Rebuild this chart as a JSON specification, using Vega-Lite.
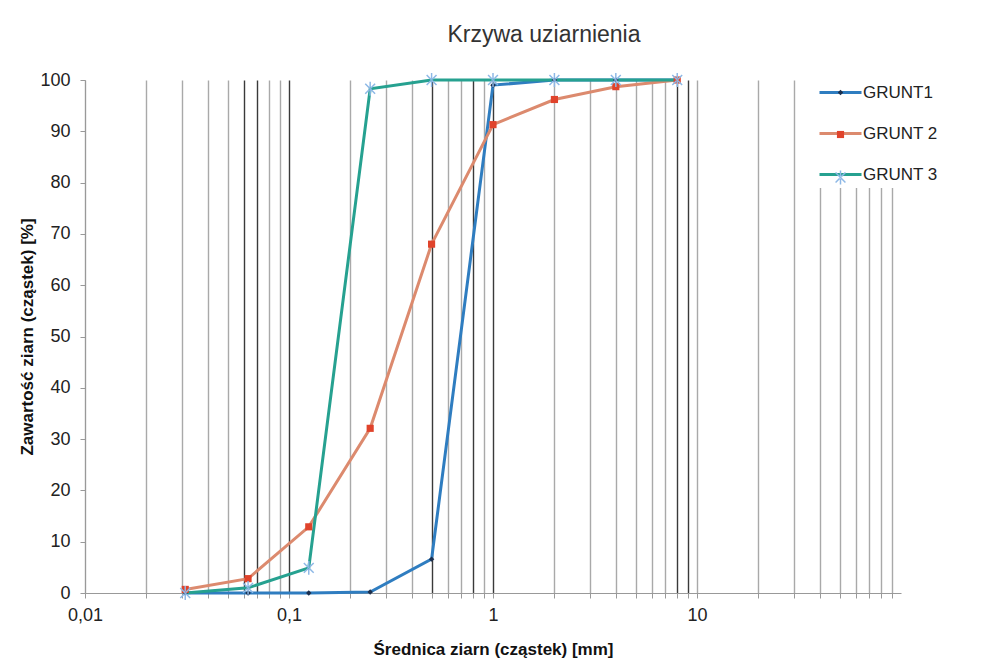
{
  "$schema": "https://vega.github.io/schema/vega-lite/v6.json",
  "width": 816,
  "height": 513,
  "autosize": {"type": "none"},
  "padding": {"left": 85, "top": 80, "right": 81, "bottom": 76},
  "background": "white",
  "title": {"text": "Krzywa uziarnienia", "font": "Liberation Sans", "fontSize": 23, "fontWeight": "normal", "color": "#333333", "anchor": "middle", "dx": 51, "offset": 18},
  "config": {"view": {"stroke": null}, "font": "Liberation Sans"},
  "data": {"values": [
    {"s": "GRUNT1", "d": 0.031, "p": 0},
    {"s": "GRUNT1", "d": 0.063, "p": 0},
    {"s": "GRUNT1", "d": 0.125, "p": 0},
    {"s": "GRUNT1", "d": 0.25, "p": 0.2},
    {"s": "GRUNT1", "d": 0.5, "p": 6.6},
    {"s": "GRUNT1", "d": 1, "p": 99},
    {"s": "GRUNT1", "d": 2, "p": 100},
    {"s": "GRUNT1", "d": 4, "p": 100},
    {"s": "GRUNT1", "d": 8, "p": 100},
    {"s": "GRUNT 2", "d": 0.031, "p": 0.7},
    {"s": "GRUNT 2", "d": 0.063, "p": 2.8},
    {"s": "GRUNT 2", "d": 0.125, "p": 12.9},
    {"s": "GRUNT 2", "d": 0.25, "p": 32.1},
    {"s": "GRUNT 2", "d": 0.5, "p": 68},
    {"s": "GRUNT 2", "d": 1, "p": 91.3},
    {"s": "GRUNT 2", "d": 2, "p": 96.2},
    {"s": "GRUNT 2", "d": 4, "p": 98.7},
    {"s": "GRUNT 2", "d": 8, "p": 100},
    {"s": "GRUNT 3", "d": 0.031, "p": 0},
    {"s": "GRUNT 3", "d": 0.063, "p": 1.0},
    {"s": "GRUNT 3", "d": 0.125, "p": 4.9},
    {"s": "GRUNT 3", "d": 0.25, "p": 98.3},
    {"s": "GRUNT 3", "d": 0.5, "p": 100},
    {"s": "GRUNT 3", "d": 1, "p": 100},
    {"s": "GRUNT 3", "d": 2, "p": 100},
    {"s": "GRUNT 3", "d": 4, "p": 100},
    {"s": "GRUNT 3", "d": 8, "p": 100}
  ]},
  "encoding": {
    "x": {
      "field": "d", "type": "quantitative",
      "scale": {"type": "log", "domain": [0.01, 100], "nice": false},
      "axis": {
        "title": "Średnica ziarn (cząstek) [mm]",
        "values": [0.01, 0.02, 0.03, 0.04, 0.05, 0.06, 0.07, 0.08, 0.09, 0.1, 0.2, 0.3, 0.4, 0.5, 0.6, 0.7, 0.8, 0.9, 1, 2, 3, 4, 5, 6, 7, 8, 9, 10, 20, 30, 40, 50, 60, 70, 80, 90],
        "grid": true,
        "gridColor": {"condition": {"test": "indexof([0.06, 0.07, 0.1, 0.5, 0.8, 1, 8, 9], datum.value) >= 0", "value": "#3a3a3a"}, "value": "#a9a9a9"},
        "gridWidth": 1.4,
        "labelExpr": "datum.value === 0.01 ? '0,01' : datum.value === 0.1 ? '0,1' : datum.value === 1 ? '1' : datum.value === 10 ? '10' : ''",
        "labelFont": "Liberation Sans", "labelFontSize": 18, "labelColor": "#222222",
        "labelFlush": false, "labelOverlap": false, "labelPadding": 8,
        "tickSize": 5, "tickColor": "#999999", "domainColor": "#999999",
        "titleFont": "Liberation Sans", "titleFontSize": 17, "titleFontWeight": "bold", "titleColor": "#111111", "titlePadding": 17
      }
    },
    "y": {
      "field": "p", "type": "quantitative",
      "scale": {"domain": [0, 100], "nice": false},
      "axis": {
        "title": "Zawartość ziarn (cząstek) [%]",
        "values": [0, 10, 20, 30, 40, 50, 60, 70, 80, 90, 100],
        "grid": false,
        "labelFont": "Liberation Sans", "labelFontSize": 18, "labelColor": "#222222",
        "labelFlush": false, "labelPadding": 10,
        "tickSize": 5, "tickColor": "#999999", "domainColor": "#999999",
        "titleFont": "Liberation Sans", "titleFontSize": 17, "titleFontWeight": "bold", "titleColor": "#111111", "titlePadding": 3
      }
    }
  },
  "layer": [
    {
      "mark": {"type": "line", "strokeWidth": 3},
      "encoding": {
        "color": {
          "field": "s", "type": "nominal",
          "scale": {"domain": ["GRUNT1", "GRUNT 2", "GRUNT 3"], "range": ["#2f7dc0", "#dc8a6e", "#26a190"]},
          "legend": {
            "title": null, "orient": "none", "legendX": 728, "legendY": -15,
            "symbolType": "stroke", "symbolSize": 1764, "symbolStrokeWidth": 3,
            "labelFont": "Liberation Sans", "labelFontSize": 17, "labelColor": "#222222", "labelOffset": 0,
            "rowPadding": 10, "padding": 5, "fillColor": "white"
          }
        }
      }
    },
    {
      "mark": {"type": "point", "filled": true, "size": 1764, "opacity": 1},
      "encoding": {
        "color": {
          "field": "s", "type": "nominal",
          "scale": {"domain": ["GRUNT1", "GRUNT 2", "GRUNT 3"], "range": ["#1c2f4d", "#e0432b", "#8db8e6"]},
          "legend": {
            "title": null, "orient": "none", "legendX": 728, "legendY": -15,
            "symbolSize": 1764, "symbolStrokeWidth": 3, "symbolStrokeColor": "transparent",
            "labelFont": "Liberation Sans", "labelFontSize": 17, "labelExpr": "' '", "labelOffset": 0,
            "rowPadding": 10, "padding": 5
          }
        },
        "shape": {
          "field": "s", "type": "nominal",
          "scale": {"domain": ["GRUNT1", "GRUNT 2", "GRUNT 3"], "range": [
            "M0,-0.13L0.13,0L0,0.13L-0.13,0Z",
            "M-0.17,-0.17H0.17V0.17H-0.17Z",
            "M-0.035,-0.33H0.035V0.33H-0.035Z M-0.21,-0.26L0.26,0.21L0.21,0.26L-0.26,-0.21Z M-0.21,0.26L0.26,-0.21L0.21,-0.26L-0.26,0.21Z"
          ]},
          "legend": {
            "title": null, "orient": "none", "legendX": 728, "legendY": -15,
            "symbolSize": 1764, "symbolStrokeWidth": 3, "symbolStrokeColor": "transparent",
            "labelFont": "Liberation Sans", "labelFontSize": 17, "labelExpr": "' '", "labelOffset": 0,
            "rowPadding": 10, "padding": 5
          }
        }
      }
    }
  ],
  "resolve": {"scale": {"color": "independent", "shape": "independent"}}
}
